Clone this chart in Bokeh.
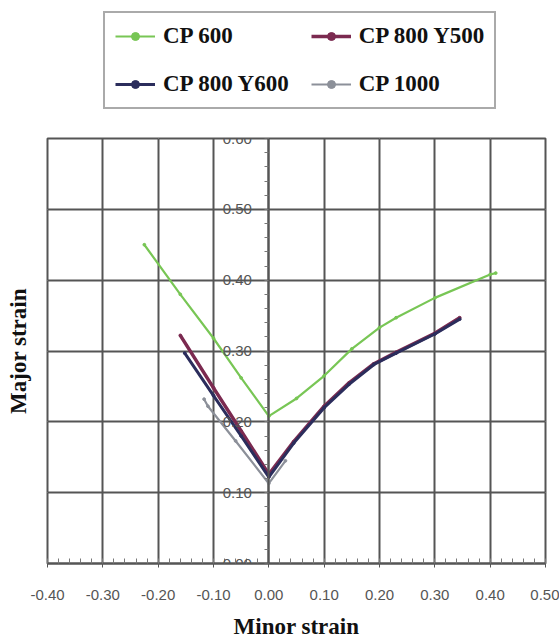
from bokeh.plotting import figure
from bokeh.layouts import column
from bokeh.models import (Range1d, FixedTicker, NumeralTickFormatter, Legend,
                          LegendItem, LinearAxis, Grid)
from bokeh.embed import file_html
from bokeh.resources import INLINE

# ---- data ----
cp600_x = [-0.225, -0.16, -0.10, -0.05, 0.0, 0.05, 0.10, 0.15, 0.20, 0.23, 0.30, 0.40, 0.41]
cp600_y = [0.450, 0.380, 0.318, 0.262, 0.208, 0.233, 0.265, 0.303, 0.333, 0.347, 0.375, 0.408, 0.410]

cp800y500_x = [-0.160, -0.10, -0.05, 0.0, 0.045, 0.10, 0.145, 0.19, 0.23, 0.30, 0.345]
cp800y500_y = [0.322, 0.248, 0.187, 0.126, 0.172, 0.222, 0.255, 0.282, 0.298, 0.325, 0.347]

cp800y600_x = [-0.152, -0.10, -0.05, 0.0, 0.045, 0.10, 0.145, 0.19, 0.23, 0.30, 0.345]
cp800y600_y = [0.297, 0.237, 0.180, 0.122, 0.170, 0.220, 0.253, 0.281, 0.297, 0.324, 0.345]

cp1000_x = [-0.117, -0.11, -0.06, 0.0, 0.03]
cp1000_y = [0.232, 0.222, 0.173, 0.113, 0.145]

series_names = ["CP 600", "CP 800 Y500", "CP 800 Y600", "CP 1000"]
series_colors = ["#78c655", "#7b2a50", "#2b2d5c", "#8c9099"]

x_ticks = [-0.4, -0.3, -0.2, -0.1, 0.0, 0.1, 0.2, 0.3, 0.4, 0.5]
y_ticks = [0.0, 0.1, 0.2, 0.3, 0.4, 0.5, 0.6]
x_minor = [round(-0.4 + 0.02 * i, 2) for i in range(46)]
y_minor = [round(0.02 * i, 2) for i in range(31)]

xs = [cp600_x, cp800y500_x, cp800y600_x, cp1000_x]
ys = [cp600_y, cp800y500_y, cp800y600_y, cp1000_y]
widths = [2.2, 3.5, 3.0, 2.2]

# ---------------- main chart ----------------
p = figure(width=559, height=514, output_backend="svg", toolbar_location=None,
           x_range=Range1d(-0.4, 0.5), y_range=Range1d(0.0, 0.6),
           x_axis_location=None, y_axis_location=None,
           min_border_left=47, min_border_right=14, min_border_top=10,
           min_border_bottom=79)
p.background_fill_color = "white"
p.border_fill_color = "white"
p.outline_line_color = "#555555"
p.outline_line_width = 2

xt = FixedTicker(ticks=x_ticks, minor_ticks=x_minor)
yt = FixedTicker(ticks=y_ticks, minor_ticks=y_minor)

xax = LinearAxis(ticker=xt, formatter=NumeralTickFormatter(format="0.00"))
xax.axis_label = "Minor strain"
xax.axis_label_text_font = "Liberation Serif"
xax.axis_label_text_font_style = "bold"
xax.axis_label_text_font_size = "23px"
xax.axis_label_text_color = "#111111"
xax.axis_label_standoff = 11
xax.major_label_text_font = "Liberation Sans"
xax.major_label_text_font_size = "15px"
xax.major_label_text_color = "#555555"
xax.major_label_standoff = 22
xax.major_tick_out = 4
xax.major_tick_in = 0
xax.minor_tick_in = 5
xax.minor_tick_out = 0
xax.axis_line_color = "#555555"
xax.axis_line_width = 2
xax.major_tick_line_color = "#555555"
xax.minor_tick_line_color = "#777777"
p.add_layout(xax, "below")

# y axis drawn at x = 0 (takes no border space)
yax = LinearAxis(ticker=yt, formatter=NumeralTickFormatter(format="0.00"))
yax.fixed_location = 0
yax.major_label_text_font = "Liberation Sans"
yax.major_label_text_font_size = "15px"
yax.major_label_text_color = "#555555"
yax.major_label_standoff = 2
yax.major_tick_out = 15
yax.major_tick_in = 0
yax.minor_tick_out = 4
yax.minor_tick_in = 0
yax.axis_line_color = "#555555"
yax.axis_line_width = 2
yax.major_tick_line_color = "#555555"
yax.minor_tick_line_color = "#777777"
p.add_layout(yax, "left")

# y title carried by a tick-less axis in the left border
ytitle_ax = LinearAxis(ticker=FixedTicker(ticks=[], minor_ticks=[]))
ytitle_ax.axis_label = "Major strain"
ytitle_ax.axis_label_text_font = "Liberation Serif"
ytitle_ax.axis_label_text_font_style = "bold"
ytitle_ax.axis_label_text_font_size = "23px"
ytitle_ax.axis_label_text_color = "#111111"
ytitle_ax.axis_label_standoff = 17
ytitle_ax.axis_line_color = None
ytitle_ax.major_tick_line_color = None
ytitle_ax.minor_tick_line_color = None
ytitle_ax.major_tick_out = 0
ytitle_ax.minor_tick_out = 0
ytitle_ax.major_label_standoff = 0
p.add_layout(ytitle_ax, "left")

p.add_layout(Grid(dimension=0, ticker=xt, grid_line_color="#555555", grid_line_width=2))
p.add_layout(Grid(dimension=1, ticker=yt, grid_line_color="#555555", grid_line_width=2))

for i in [3, 0, 1, 2]:
    p.line(xs[i], ys[i], line_color=series_colors[i], line_width=widths[i])
    p.scatter(xs[i], ys[i], marker="circle", size=2.8, fill_color=series_colors[i],
              line_color=series_colors[i])

# ---------------- legend panel ----------------
lg = figure(width=559, height=128, output_backend="svg", toolbar_location=None,
            x_range=Range1d(10, 11), y_range=Range1d(10, 11),
            x_axis_location=None, y_axis_location=None,
            min_border_left=0, min_border_right=0, min_border_top=0, min_border_bottom=0)
lg.outline_line_color = None
lg.grid.visible = False
renders = {}
for i in range(4):
    l = lg.line(xs[i], ys[i], line_color=series_colors[i], line_width=widths[i])
    s = lg.scatter(xs[i], ys[i], marker="circle", size=3.5, fill_color=series_colors[i],
                   line_color=series_colors[i])
    renders[i] = [l, s]

items = [LegendItem(label=series_names[i], renderers=renders[i]) for i in [0, 1, 2, 3]]
legend = Legend(items=items, ncols=2, orientation="horizontal", location=(56, 19),
                label_text_font="Liberation Serif", label_text_font_style="bold",
                label_text_font_size="23px", label_text_color="#111111",
                label_height=25, glyph_width=40, glyph_height=20, label_standoff=8,
                spacing=22, padding=10, border_line_color="#555555",
                border_line_width=2, background_fill_color="white", margin=0)
lg.add_layout(legend, "center")

layout = column(lg, p, spacing=0)
open("out.html", "w").write(file_html(layout, INLINE))
